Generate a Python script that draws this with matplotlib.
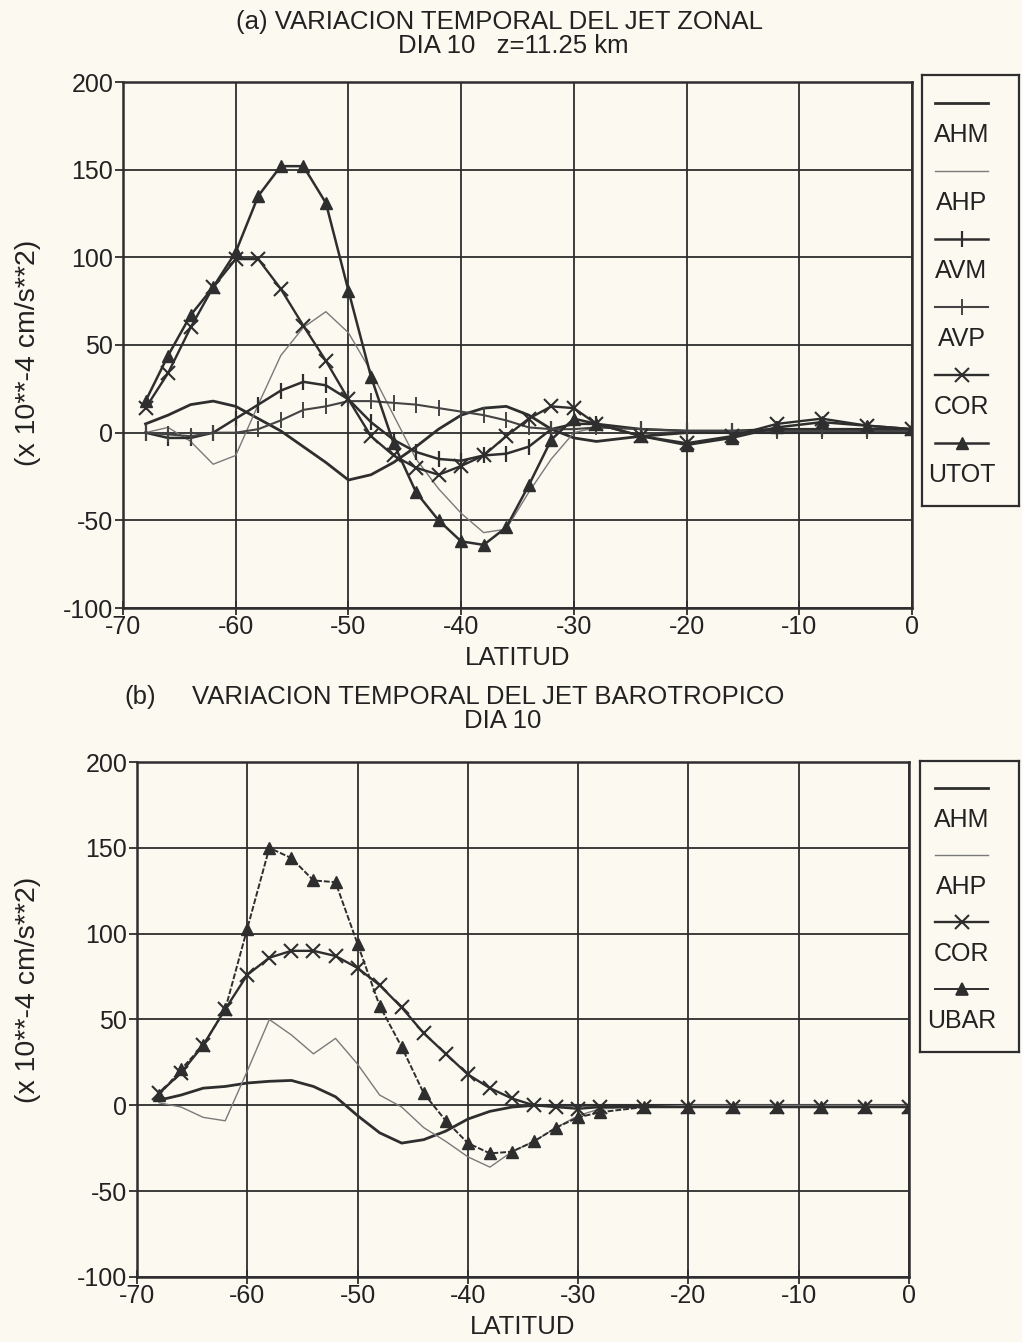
import numpy as np
import matplotlib
matplotlib.use("Agg")
import matplotlib.pyplot as plt

plt.rcParams["axes.unicode_minus"] = False

# latitudes: every 2 deg up to -28, then every 4 deg
lat = [-68, -66, -64, -62, -60, -58, -56, -54, -52, -50, -48, -46, -44, -42,
       -40, -38, -36, -34, -32, -30, -28, -24, -20, -16, -12, -8, -4, 0]

# (a) jet zonal, z=11.25 km
ahm_a = [5, 10, 16, 18, 15, 8, 1, -8, -17, -27, -24, -17, -8, 2,
         10, 14, 15, 10, 2, -3, -5, -2, 0, 0, 0, 0, 0, 0]
ahp_a = [0, 3, -5, -18, -13, 16, 44, 60, 69, 57, 35, 10, -15, -32,
         -46, -57, -55, -34, -15, 0, 3, 2, 1, 1, 1, 1, 1, 1]
avm_a = [0, -3, -3, 0, 8, 16, 24, 29, 27, 19, 6, -4, -11, -15,
         -16, -13, -12, -8, 2, 5, 5, 2, 1, 1, 2, 2, 2, 2]
avp_a = [0, -1, -2, 0, 0, 2, 7, 13, 15, 18, 18, 17, 16, 14,
         12, 10, 7, 3, 2, 2, 3, 2, 1, 1, 1, 1, 1, 1]
cor_a = [14, 34, 60, 83, 99, 99, 82, 61, 41, 19, -2, -13, -20, -24,
         -19, -13, -2, 8, 15, 14, 5, -2, -6, -2, 5, 8, 4, 2]
utot_a = [18, 44, 67, 83, 103, 135, 152, 152, 131, 81, 32, -6, -34, -50,
          -62, -64, -54, -30, -4, 8, 5, -2, -7, -3, 3, 6, 4, 2]

# (b) jet barotropico
ahm_b = [3, 6, 10, 11, 13, 14, 14.5, 11, 5, -6, -16, -22, -20, -15,
         -8, -3.5, -1, 0, 0, 0, 0, 0, 0, 0, 0, 0, 0, 0]
ahp_b = [1.5, -1, -7, -9, 20, 50, 41, 30, 39, 24, 6, -1, -13, -21,
         -30, -36, -27, -21, -13, -6, -2, -1, 0, 0, 0, 0, 0, 0]
cor_b = [7, 19, 35, 56, 76, 86, 90, 90, 87, 80, 70, 57, 42, 30,
         18, 10, 4, 0, -1, -2, -1, -1, -1, -1, -1, -1, -1, -1]
ubar_b = [6, 21, 35, 56, 103, 150, 144, 131, 130, 94, 58, 34, 7, -9,
          -22, -28, -27, -21, -13, -7, -4, -1, -1, -1, -1, -1, -1, -1]

W, H = 1022, 1342
BG = "#fbf9f0"
DARK = "#2e2e2e"
GRAY = "#7a7a7a"
FONT = ["Liberation Sans", "DejaVu Sans"]

fig = plt.figure(figsize=(W / 100, H / 100), dpi=100, facecolor=BG)


def px_axes(x0, y0, x1, y1):
    return fig.add_axes([x0 / W, 1 - y1 / H, (x1 - x0) / W, (y1 - y0) / H])


def style_axes(ax, ylab_xy):
    ax.set_facecolor(BG)
    ax.set_xlim(-70, 0)
    ax.set_ylim(-100, 200)
    ax.set_xticks(np.arange(-70, 1, 10))
    ax.set_yticks(np.arange(-100, 201, 50))
    ax.grid(True, color=DARK, linewidth=1.3)
    for s in ax.spines.values():
        s.set_linewidth(1.8)
        s.set_color(DARK)
    ax.tick_params(axis="x", direction="inout", length=10, width=1.3,
                   colors=DARK, labelsize=18, pad=0)
    ax.tick_params(axis="y", direction="out", length=6, width=1.3,
                   colors=DARK, labelsize=18, pad=1)
    for lab in ax.get_xticklabels() + ax.get_yticklabels():
        lab.set_family(FONT)
        lab.set_color("#222")
    ax.set_xlabel("LATITUD", fontsize=18.5, family=FONT, color="#222", labelpad=5)
    ax.set_ylabel("(x 10**-4 cm/s**2)", fontsize=20.5, family=FONT, color="#222")
    ax.yaxis.set_label_coords(*ylab_xy)


def legend_box(entries, x0, y0, x1, y1, first, step):
    lg = px_axes(x0, y0, x1, y1)
    lg.set_xlim(x0, x1)
    lg.set_ylim(y1, y0)
    lg.set_xticks([])
    lg.set_yticks([])
    lg.set_facecolor(BG)
    for s in lg.spines.values():
        s.set_linewidth(1.6)
        s.set_color(DARK)
    for i, (name, kw) in enumerate(entries):
        yl = first + i * step
        lg.plot([935, 988], [yl, yl], **{k: v for k, v in kw.items() if k not in ("marker", "ms", "mew")})
        if "marker" in kw:
            lg.plot([961.5], [yl], linestyle="none", marker=kw["marker"], ms=kw["ms"],
                     mew=kw.get("mew", 1.2), color=kw["color"])
        lg.text(961.5, yl + 32, name, ha="center", va="center", fontsize=18,
                family=FONT, color="#222")


# ---------------- panel (a) ----------------
ax1 = px_axes(123, 82, 912, 608)
style_axes(ax1, (-0.104, 0.485))
s_ahm = dict(color=DARK, lw=2.0)
s_ahp = dict(color=GRAY, lw=1.0)
s_avm = dict(color=DARK, lw=1.8, marker="|", ms=12, mew=1.6)
s_avp = dict(color="#444", lw=1.5, marker="|", ms=12, mew=1.4)
s_cor = dict(color=DARK, lw=1.7, marker="x", ms=10, mew=1.5)
s_tot = dict(color=DARK, lw=1.8, marker="^", ms=8, mew=1.0)
ax1.plot(lat, ahm_a, **s_ahm)
ax1.plot(lat, ahp_a, **s_ahp)
ax1.plot(lat, avm_a, **s_avm)
ax1.plot(lat, avp_a, **s_avp)
ax1.plot(lat, cor_a, **s_cor)
ax1.plot(lat, utot_a, **s_tot)
fig.text(500 / W, 1 - 22 / H, "(a) VARIACION TEMPORAL DEL JET ZONAL", ha="center",
         va="center", fontsize=18.5, family=FONT, color="#222")
fig.text(513 / W, 1 - 46 / H, "DIA 10   z=11.25 km", ha="center", va="center",
         fontsize=18.5, family=FONT, color="#222")
legend_box([("AHM", s_ahm), ("AHP", s_ahp), ("AVM", s_avm), ("AVP", s_avp),
            ("COR", s_cor), ("UTOT", s_tot)], 922, 75, 1019, 506, 103, 68)

# ---------------- panel (b) ----------------
ax2 = px_axes(137, 762, 909, 1277)
style_axes(ax2, (-0.124, 0.557))
ax2.plot(lat, ahm_b, **s_ahm)
ax2.plot(lat, ahp_b, **s_ahp)
ax2.plot(lat, cor_b, **s_cor)
ax2.plot(lat, ubar_b, color=DARK, lw=1.4, marker="^", ms=8, ls=(0, (3, 1)))
fig.text(140 / W, 1 - 697 / H, "(b)", ha="center", va="center", fontsize=18.5,
         family=FONT, color="#222")
fig.text(488 / W, 1 - 697 / H, "VARIACION TEMPORAL DEL JET BAROTROPICO", ha="center",
         va="center", fontsize=18.5, family=FONT, color="#222")
fig.text(503 / W, 1 - 721 / H, "DIA 10", ha="center", va="center", fontsize=18.5,
         family=FONT, color="#222")
legend_box([("AHM", s_ahm), ("AHP", s_ahp), ("COR", s_cor),
            ("UBAR", dict(color=DARK, lw=1.4, marker="^", ms=8))],
           920, 761, 1019, 1052, 788, 67)

fig.savefig("out.png", dpi=100, facecolor=BG)
